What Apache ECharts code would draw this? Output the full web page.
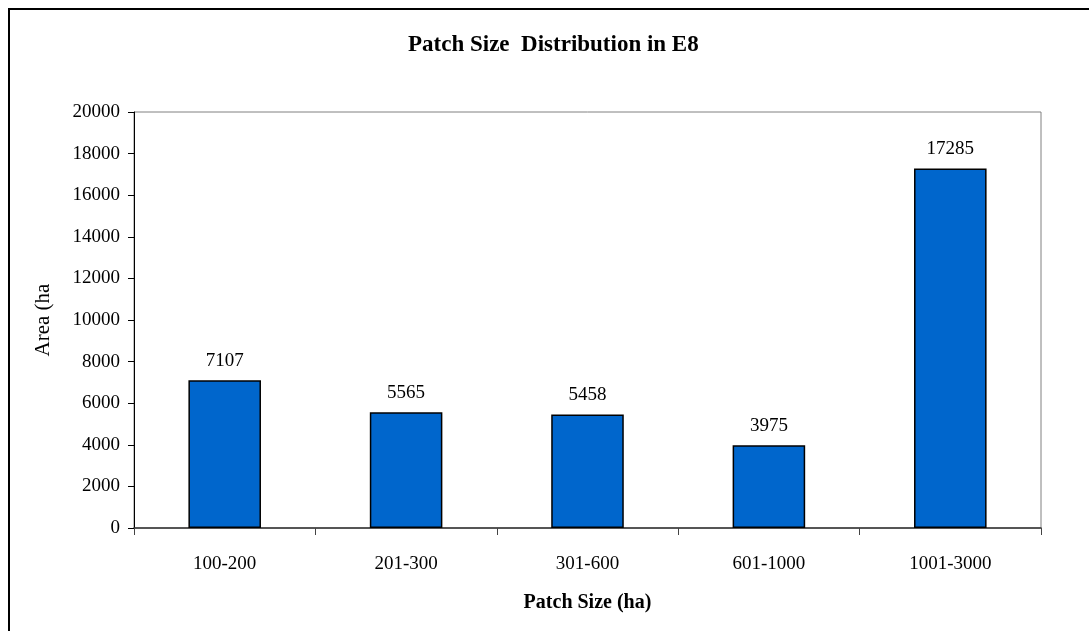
<!DOCTYPE html>
<html>
<head>
<meta charset="utf-8">
<script src="https://cdn.jsdelivr.net/npm/echarts@6/dist/echarts.min.js"></script>
<style>
  html, body { margin: 0; padding: 0; background: #fff; }
  #chart { width: 1089px; height: 631px; }
</style>
</head>
<body>
<div id="chart"></div>
<script>
// Patch size classes and the area they cover
const categories = ['100-200', '201-300', '301-600', '601-1000', '1001-3000'];
const areaValues = [7107, 5565, 5458, 3975, 17285];
const yTicks = { min: 0, max: 20000, interval: 2000 };

const serif = 'Liberation Serif, Times New Roman, serif';

const chart = echarts.init(document.getElementById('chart'), null, { renderer: 'canvas' });

chart.setOption({
  backgroundColor: '#ffffff',
  animation: false,
  title: {
    text: 'Patch Size  Distribution in E8',
    left: 403,
    top: 29,
    textStyle: { fontFamily: serif, fontSize: 23, fontWeight: 'bold', color: '#000' }
  },
  graphic: [{
    type: 'rect',
    shape: { x: 9, y: 9, width: 1200, height: 800 },
    style: { fill: 'none', stroke: '#000', lineWidth: 2 },
    silent: true
  }],
  grid: {
    left: 134, right: 48, top: 112, bottom: 103,
    show: true, borderColor: '#808080', borderWidth: 1
  },
  xAxis: {
    type: 'category',
    data: categories,
    name: 'Patch Size (ha)',
    nameLocation: 'middle',
    nameGap: 65,
    nameTextStyle: { fontFamily: serif, fontSize: 20, fontWeight: 'bold', color: '#000' },
    axisLine: { lineStyle: { color: '#333', width: 1.5 } },
    axisTick: { show: true, length: 7, lineStyle: { color: '#444' } },
    axisLabel: { fontFamily: serif, fontSize: 19, color: '#000', margin: 27 },
    splitLine: { show: false }
  },
  yAxis: {
    type: 'value',
    min: yTicks.min, max: yTicks.max, interval: yTicks.interval,
    name: 'Area (ha',
    nameLocation: 'middle',
    nameGap: 80,
    nameRotate: 90,
    nameTextStyle: { fontFamily: serif, fontSize: 21, color: '#000' },
    axisLine: { show: true, lineStyle: { color: '#000', width: 1 } },
    axisTick: { show: true, length: 6, lineStyle: { color: '#000' } },
    axisLabel: {
      fontFamily: serif, fontSize: 19, color: '#000', margin: 14,
      formatter: (v) => String(v)
    },
    splitLine: { show: false }
  },
  series: [{
    type: 'bar',
    data: areaValues,
    barCategoryGap: '60%',
    itemStyle: { color: '#0066CC', borderColor: '#000', borderWidth: 1.5 },
    label: {
      show: true, position: 'top', distance: 10,
      fontFamily: serif, fontSize: 19, color: '#000'
    }
  }]
});
</script>
</body>
</html>
